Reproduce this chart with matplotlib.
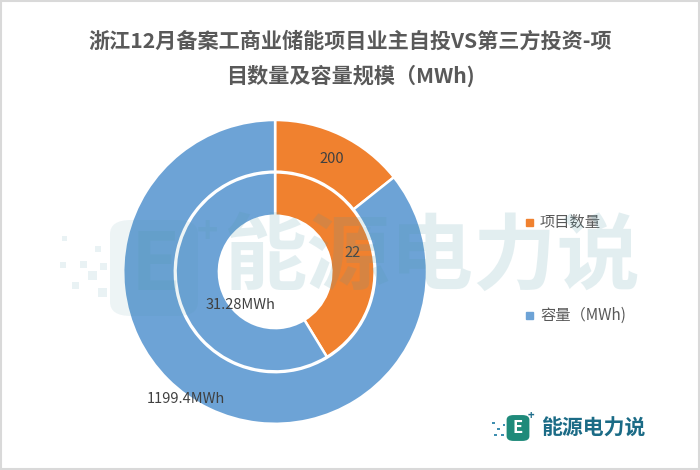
import matplotlib
matplotlib.use("Agg")
import matplotlib.pyplot as plt
from matplotlib.patches import Rectangle, FancyBboxPatch

plt.rcParams['font.family'] = ['Noto Sans CJK SC', 'DejaVu Sans']

title = "浙江12月备案工商业储能项目业主自投VS第三方投资-项\n目数量及容量规模（MWh)"
series_names = ["项目数量", "容量（MWh)"]
outer_values = [200, 1199.4]
outer_labels = ["200", "1199.4MWh"]
inner_values = [22, 31.28]
inner_labels = ["22", "31.28MWh"]
colors = ["#F0812F", "#6DA3D6"]

W, H = 700, 470
fig = plt.figure(figsize=(7, 4.7), dpi=100)
fig.patch.set_facecolor("white")
fig.add_artist(Rectangle((0.002, 0.003), 0.996, 0.994, transform=fig.transFigure,
                         fill=False, edgecolor="#D9D9D9", linewidth=1.5))

fig.text(0.5, 0.875, title, ha="center", va="center", fontsize=15.2,
         fontweight="bold", color="#595959", linespacing=1.75)

ax = fig.add_axes([0.176, 0.098, 0.434, 0.647])
ax.pie(outer_values, radius=1.0, colors=colors, startangle=90, counterclock=False,
       wedgeprops=dict(width=0.34, edgecolor="white", linewidth=1.8))
ax.pie(inner_values, radius=0.655, colors=colors, startangle=90, counterclock=False,
       wedgeprops=dict(width=0.285, edgecolor="white", linewidth=1.8))
ax.set_xlim(-1, 1)
ax.set_ylim(-1, 1)
ax.set_aspect("equal")
ax.axis("off")

lab_kw = dict(fontsize=10.5, color="#404040", ha="center", va="center")
ax.text(0.375, 0.74, outer_labels[0], **lab_kw)
ax.text(-0.59, -0.84, outer_labels[1], **lab_kw)
ax.text(0.51, 0.125, inner_labels[0], **lab_kw)
ax.text(-0.225, -0.22, inner_labels[1], **lab_kw)

# legend
for i, (name, c) in enumerate(zip(series_names, colors)):
    y = 1 - (222 if i == 0 else 315) / H
    fig.add_artist(Rectangle((526 / W, y - 0.009), 0.0105, 0.0157,
                             transform=fig.transFigure, color=c))
    fig.text(540 / W, y, name, fontsize=11, color="#595959", va="center", ha="left")

# watermark
wm = "#4F98A6"
wa = 0.16
fig.text(432 / W, 1 - 258 / H, "能源电力说", fontsize=60, color=wm,
         alpha=wa, ha="center", va="center", fontweight="bold", zorder=10)
fig.add_artist(FancyBboxPatch((110 / W, 1 - 316 / H), 88 / W, 96 / H,
                              boxstyle="round,pad=0.0,rounding_size=0.03",
                              transform=fig.transFigure, facecolor=wm, alpha=0.10,
                              edgecolor="none", zorder=10))
fig.text(155 / W, 1 - 266 / H, "E", fontsize=58, color=wm, alpha=wa,
         ha="center", va="center", fontweight="bold", zorder=10)
fig.text(207 / W, 1 - 232 / H, "+", fontsize=26, color=wm, alpha=wa,
         ha="center", va="center", fontweight="bold", zorder=10)
for (px, py, s) in [(62, 241, 5), (95, 252, 6), (80, 268, 7), (60, 268, 6),
                    (88, 280, 9), (72, 289, 7), (98, 297, 9), (100, 270, 7)]:
    fig.add_artist(Rectangle((px / W, 1 - py / H), s / W, s / H,
                             transform=fig.transFigure, facecolor=wm, alpha=0.12,
                             edgecolor="none", zorder=10))

# bottom-right logo
fig.add_artist(FancyBboxPatch((508 / W, 1 - 440 / H), 20 / W, 24 / H,
                              boxstyle="round,pad=0.002,rounding_size=0.01",
                              transform=fig.transFigure, facecolor="#1F8A7A",
                              edgecolor="none"))
fig.text(518 / W, 1 - 428 / H, "E", fontsize=12, color="white",
         fontweight="bold", ha="center", va="center")
fig.text(531 / W, 1 - 415 / H, "+", fontsize=8, color="#1F6E8C",
         fontweight="bold", ha="center", va="center")
for (px, py) in [(492, 424), (497, 430), (501, 436), (494, 436), (503, 426)]:
    fig.add_artist(Rectangle((px / W, 1 - py / H), 2.5 / W, 2.5 / H,
                             transform=fig.transFigure, facecolor="#3F8FB0",
                             edgecolor="none"))
fig.text(541 / W, 1 - 428 / H, "能源电力说", fontsize=15, color="#1B6B86",
         fontweight="bold", ha="left", va="center")

fig.savefig("out.png", dpi=100, facecolor="white")
